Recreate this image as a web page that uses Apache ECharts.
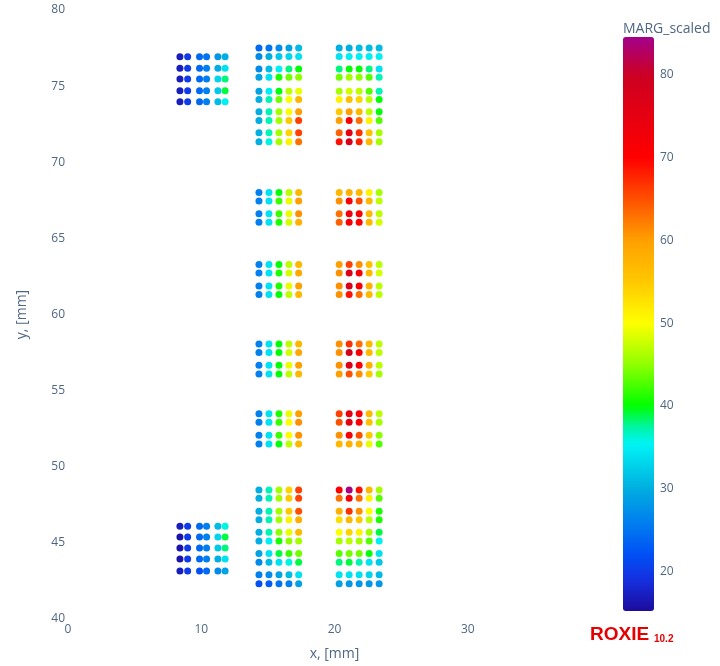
<!DOCTYPE html>
<html>
<head>
<meta charset="utf-8">
<script src="https://cdn.jsdelivr.net/npm/echarts@6/dist/echarts.min.js"></script>
<style>html,body{margin:0;padding:0;background:#fff;}#c{width:720px;height:666px;}</style>
</head>
<body>
<div id="c"></div>
<script>
// ---- column x positions [mm]
const xLeft = [8.40, 8.98, 9.87, 10.40, 11.25, 11.79];
const xMid = [14.33, 15.08, 15.83, 16.58, 17.31];
const xRight = [20.35, 21.10, 21.85, 22.60, 23.35];
// ---- row y positions [mm]
const yLeftTop = [76.93, 76.18, 75.46, 74.69, 73.97];
const yLeftBot = [46.10, 45.38, 44.67, 43.94, 43.16];
const yTop = [77.50, 76.95, 76.12, 75.58, 74.66, 74.12, 73.31, 72.75, 71.94, 71.35];
const y68 = [68.02, 67.45, 66.62, 66.06];
const y63 = [63.29, 62.73, 61.88, 61.31];
const y58 = [58.06, 57.50, 56.67, 56.10];
const y53 = [53.48, 52.92, 52.07, 51.50];
const yBot = [48.48, 47.93, 47.08, 46.52, 45.69, 45.12, 44.30, 43.73, 42.90, 42.31];
// ---- MARG_scaled values (rows top->bottom, cols left->right)
const margLeftTop = [
  [17,20,24,25,28,30],
  [17,20,24,26,30,34],
  [17,20,24,26,33,38],
  [17,20,24,26,32,39],
  [17,20,24,26,31,35]];
const margLeftBot = [
  [17,20,24,26,31,36],
  [16,20,24,26,33,39],
  [16,20,24,26,32,38],
  [16,20,24,26,30,34],
  [17,20,22,24,27,29]];
const margMidTop = [
  [24,25,27,29,31],
  [27,30,32,33,34],
  [27,31,35,38,40],
  [29,34,41,44,45],
  [29,35,40,47,49],
  [30,37,44,50,57],
  [30,37,46,50,60],
  [30,37,46,55,66],
  [30,37,46,54,66],
  [30,36,46,51,63]];
const margRightTop = [
  [30,30,31,31,31],
  [34,35,35,35,35],
  [38,40,40,38,34],
  [44,46,45,43,37],
  [46,48,47,43,37],
  [51,56,54,47,40],
  [55,60,57,47,40],
  [60,71,63,51,43],
  [64,75,67,56,46],
  [69,78,68,57,46]];
const margMid68 = [
  [26,34,40,47,57],
  [26,34,42,49,60],
  [26,34,42,49,61],
  [26,34,41,48,58]];
const margRight68 = [
  [57,58,57,51,46],
  [61,72,65,57,47],
  [63,73,71,57,47],
  [64,72,70,57,48]];
const margMid63 = [
  [26,34,40,47,57],
  [26,34,41,48,59],
  [26,34,41,49,60],
  [26,34,40,47,57]];
const margRight63 = [
  [60,66,61,56,47],
  [61,77,72,57,48],
  [61,77,72,58,47],
  [61,69,63,57,47]];
const margMid58 = [
  [26,34,40,47,57],
  [26,34,40,48,59],
  [26,34,40,49,60],
  [26,34,40,47,57]];
const margRight58 = [
  [61,67,63,57,47],
  [61,78,71,57,47],
  [61,77,71,58,47],
  [60,65,61,55,46]];
const margMid53 = [
  [26,34,41,49,60],
  [26,34,42,50,61],
  [26,34,42,50,61],
  [26,34,40,47,57]];
const margRight53 = [
  [66,75,71,57,47],
  [65,75,71,56,46],
  [61,72,65,55,45],
  [57,58,57,49,43]];
const margMidBot = [
  [30,37,46,54,66],
  [30,37,46,55,66],
  [30,37,46,55,65],
  [30,37,46,51,58],
  [30,37,45,49,57],
  [30,35,41,45,46],
  [29,34,39,42,44],
  [27,31,34,36,39],
  [26,27,29,31,34],
  [22,23,25,26,29]];
const margRightBot = [
  [70,84,69,57,46],
  [63,72,63,51,43],
  [58,67,61,50,41],
  [53,57,55,47,41],
  [50,54,51,46,39],
  [46,47,46,43,35],
  [43,44,44,40,34],
  [38,39,37,34,32],
  [34,34,34,33,31],
  [29,28,28,28,28]];
const xTicks = [0, 10, 20, 30];
const yTicks = [40, 45, 50, 55, 60, 65, 70, 75, 80];
const cbTicks = [20, 30, 40, 50, 60, 70, 80];
const cbMin = 15.2, cbMax = 84.6;

// build point table
const blocks = [
  [xLeft, yLeftTop, margLeftTop], [xLeft, yLeftBot, margLeftBot],
  [xMid, yTop, margMidTop], [xRight, yTop, margRightTop],
  [xMid, y68, margMid68], [xRight, y68, margRight68],
  [xMid, y63, margMid63], [xRight, y63, margRight63],
  [xMid, y58, margMid58], [xRight, y58, margRight58],
  [xMid, y53, margMid53], [xRight, y53, margRight53],
  [xMid, yBot, margMidBot], [xRight, yBot, margRightBot]];
const points = [];
blocks.forEach(([xs, ys, vals]) => {
  ys.forEach((y, r) => xs.forEach((x, c) => points.push([x, y, vals[r][c]])));
});

// colour scale (style)
const stops = [
  [15.2,[28,11,156]],[19,[21,48,224]],[22,[0,80,245]],[26,[0,128,238]],[30,[0,174,224]],
  [35.5,[0,245,245]],[37.5,[0,245,160]],[40,[0,255,0]],[45,[144,255,0]],[50,[255,255,0]],
  [55,[255,200,0]],[60,[255,160,0]],[65,[255,80,0]],[70,[255,0,0]],[80,[204,0,34]],[84.6,[163,0,140]]];
function colAt(v){
  for(let i=1;i<stops.length;i++){
    if(v<=stops[i][0]){
      const a=stops[i-1],b=stops[i],t=(v-a[0])/(b[0]-a[0]);
      const c=a[1].map((k,j)=>Math.round(k+(b[1][j]-k)*t));
      return 'rgb('+c.join(',')+')';
    }
  }
  return 'rgb('+stops[stops.length-1][1].join(',')+')';
}
const colors=[];
for(let i=0;i<=100;i++) colors.push(colAt(cbMin+(cbMax-cbMin)*i/100));

const font = '"Open Sans", "DejaVu Sans", Arial, sans-serif';
const tickColor = '#506784';
const chart = echarts.init(document.getElementById('c'));
chart.setOption({
  backgroundColor: '#fff',
  animation: false,
  grid: [
    {left: 68, top: 10, width: 533, height: 612},
    {left: 623, top: 37, width: 31, height: 574}
  ],
  xAxis: [{
    type: 'value', min: 0, max: 40, interval: 10, gridIndex: 0,
    axisLine: {show: false}, axisTick: {show: false}, splitLine: {show: false},
    axisLabel: {color: tickColor, fontFamily: font, fontSize: 12, margin: 5, customValues: xTicks},
    name: 'x, [mm]', nameLocation: 'middle', nameGap: 28,
    nameTextStyle: {color: tickColor, fontFamily: font, fontSize: 14}
  }, {
    type: 'value', gridIndex: 1, show: false, min: 0, max: 1
  }],
  yAxis: [{
    type: 'value', min: 40, max: 80, interval: 5, gridIndex: 0,
    axisLine: {show: false}, axisTick: {show: false}, splitLine: {show: false},
    axisLabel: {color: tickColor, fontFamily: font, fontSize: 12, margin: 3, customValues: yTicks},
    name: 'y, [mm]', nameLocation: 'middle', nameGap: 39,
    nameTextStyle: {color: tickColor, fontFamily: font, fontSize: 14}
  }, {
    type: 'value', gridIndex: 1, min: cbMin, max: cbMax, position: 'right',
    axisLine: {show: false}, axisTick: {show: false}, splitLine: {show: false},
    axisLabel: {color: tickColor, fontFamily: font, fontSize: 12, margin: 6, customValues: cbTicks}
  }],
  visualMap: {
    type: 'continuous', min: cbMin, max: cbMax, dimension: 2, seriesIndex: 0,
    left: 623, top: 37, itemWidth: 31, itemHeight: 574, padding: 0,
    calculable: false, text: null, showLabel: false, hoverLink: false,
    inRange: {color: colors}
  },
  graphic: [
    {type: 'text', left: 623, top: 22, style: {text: 'MARG_scaled', fill: tickColor, font: '14px ' + font}},
    {type: 'text', left: 590, top: 625, style: {text: 'ROXIE', fill: '#e60000', font: 'bold 19px "Liberation Sans", Arial, sans-serif'}},
    {type: 'text', left: 654, top: 634, style: {text: '10.2', fill: '#e60000', font: 'bold 10px "Liberation Sans", Arial, sans-serif'}}
  ],
  series: [{
    type: 'scatter', xAxisIndex: 0, yAxisIndex: 0,
    symbol: 'circle', symbolSize: 7, data: points,
    itemStyle: {opacity: 1}
  }]
});
</script>
</body>
</html>
